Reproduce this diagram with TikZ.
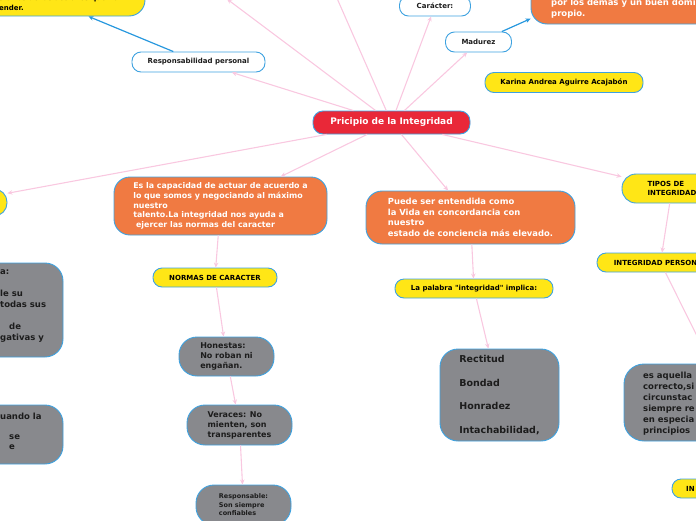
\documentclass[tikz,border=0pt]{standalone}
\usepackage{fontspec}
\setmainfont{DejaVu Sans}[Ligatures=TeXOff]
\usetikzlibrary{arrows.meta}
\definecolor{yel}{RGB}{255,230,22}
\definecolor{ora}{RGB}{240,122,66}
\definecolor{redc}{RGB}{233,40,56}
\definecolor{gry}{RGB}{136,137,141}
\definecolor{bdr}{RGB}{62,162,224}
\definecolor{pnk}{RGB}{249,200,224}
\definecolor{blu}{RGB}{40,152,222}
\definecolor{dark}{RGB}{28,28,28}
\newcommand\myfs[2]{\fontsize{#1}{#2}\selectfont}
\begin{document}
\begin{tikzpicture}[x=1pt,y=-1pt,
  base/.style={draw=bdr,line width=0.9pt,inner sep=0pt,align=left},
  pillw/.style={base,fill=white,text=dark,rounded corners=9pt,font=\bfseries\myfs{7}{9}},
  pilly/.style={base,fill=yel,text=black,rounded corners=9pt,font=\bfseries\myfs{7}{9}},
  oran/.style={base,fill=ora,text=white,rounded corners=16pt},
  grayb/.style={base,fill=gry,text=dark,rounded corners=18pt},
  txt/.style={inner sep=0pt,align=left},
  pk/.style={draw=pnk,line width=1.1pt,-{Stealth[length=5pt,width=4.5pt]}},
  bl/.style={draw=blu,line width=1.2pt,-{Stealth[length=5pt,width=4.5pt]}}]
\useasboundingbox (0,0) rectangle (696,520);
\clip (0,0) rectangle (696,520);

% nodes
\node[base,fill=redc,text=white,rounded corners=10pt,minimum width=157pt,minimum height=23pt,font=\bfseries\myfs{9}{11}] (c) at (391.5,122.5) {Pricipio de la Integridad};
\node[pillw,minimum width=133pt,minimum height=20pt] (resp) at (198.5,62) {Responsabilidad personal};
\node[pilly,minimum width=202pt,minimum height=36pt,rounded corners=16pt] (tl) at (44,-2) {};
\node[txt,font=\bfseries\myfs{7}{10},anchor=west] (tlt) at (-1,3) {s otros de las acciones que no\\ender.};
\node[pillw,minimum width=71pt,minimum height=20pt] (car) at (435,6) {Carácter:};
\node[pillw,minimum width=66pt,minimum height=20pt] (mad) at (478.5,42) {Madurez};
\node[oran,minimum width=218pt,minimum height=108pt] (otr) at (640,-30) {};
\node[txt,text=white,font=\bfseries\myfs{8.5}{11},anchor=west] (otrt) at (551,8.5) {por los demás y un buen dominio\\propio.};
\node[pilly,minimum width=158pt,minimum height=20pt] (kar) at (564,82.5) {Karina Andrea Aguirre Acajabón};
\node[pilly,minimum width=100pt,minimum height=27pt,rounded corners=13pt] (ly) at (-43,202.5) {};
\node[oran,minimum width=213pt,minimum height=58pt,font=\bfseries\myfs{7.9}{9.8}] (esla) at (220.5,206) {Es la capacidad de actuar de acuerdo a\\lo que somos y negociando al máximo\\nuestro\\talento.La integridad nos ayuda a\\\hspace*{2.8pt}ejercer las normas del caracter};
\node[oran,minimum width=209pt,minimum height=53pt,font=\bfseries\myfs{8.4}{10.5}] (puede) at (470.5,217.5) {Puede ser entendida como\\la Vida en concordancia con\\nuestro\\estado de conciencia más elevado.};
\node[pilly,minimum width=100pt,minimum height=29pt,rounded corners=14pt,font=\bfseries\myfs{7}{8.5}] (tipos) at (672,188.5) {TIPOS DE\\INTEGRIDAD};
\node[pilly,minimum width=124pt,minimum height=19pt] (norm) at (215,277.5) {NORMAS DE CARACTER};
\node[pilly,minimum width=158pt,minimum height=19pt] (pal) at (474,288.5) {La palabra "integridad" implica:};
\node[pilly,minimum width=127pt,minimum height=19pt] (ip) at (660.5,262.5) {INTEGRIDAD PERSONAL};
\node[grayb,minimum width=95pt,minimum height=39pt,font=\bfseries\myfs{8}{10}] (hon) at (226.5,356.5) {Honestas:\\No roban ni\\engañan.};
\node[grayb,minimum width=105pt,minimum height=40pt,font=\bfseries\myfs{8}{10}] (ver) at (239.5,425) {Veraces: No\\mienten, son\\transparentes};
\node[grayb,minimum width=95pt,minimum height=40pt,font=\bfseries\myfs{6.5}{8.5}] (res) at (243.5,505) {Responsable:\\Son siempre\\confiables};
\node[grayb,minimum width=119pt,minimum height=92pt,font=\bfseries\myfs{9.5}{23.7}] (rect) at (499.5,395) {Rectitud\\Bondad\\Honradez\\Intachabilidad,};
\node[grayb,minimum width=212pt,minimum height=77pt,rounded corners=20pt] (gr) at (730,402.5) {};
\node[txt,text=dark,font=\bfseries\myfs{8.5}{11},anchor=west] (grt) at (643,403.5) {es aquella\\correcto,si\\circunstac\\siempre re\\en especia\\principios};
\node[pilly,minimum width=116pt,minimum height=19pt] (iny) at (730,488.5) {};
\node[txt,font=\bfseries\myfs{7}{9},anchor=west] (inyt) at (686,488.5) {IN};
\node[grayb,minimum width=160pt,minimum height=94pt] (gl1) at (-17,310) {};
\node[txt,text=dark,font=\bfseries\myfs{8.5}{11},anchor=west] (gl1t) at (0,306) {a:\\\mbox{}\\le su\\todas sus\\\mbox{}\\\hspace*{9pt}de\\gativas y};
\node[grayb,minimum width=160pt,minimum height=59pt] (gl2) at (-17,434.5) {};
\node[txt,text=dark,font=\bfseries\myfs{8.5}{10},anchor=west] (gl2t) at (0,431) {uando la\\\mbox{}\\\hspace*{9pt}se\\\hspace*{9pt}e};

% free ends
\coordinate (u1) at (227,-1);
\coordinate (u2) at (329,-20);

% connectors
\draw[pk] (c) -- (resp);
\draw[pk] (c) -- (u1);
\draw[pk] (c) -- (u2);
\draw[pk] (c) -- (car);
\draw[pk] (c) -- (mad);
\draw[pk] (c) -- (ly);
\draw[pk] (c) -- (esla);
\draw[pk] (c) -- (puede);
\draw[pk] (c) -- (tipos);
\draw[pk] (esla) -- (norm);
\draw[pk] (norm) -- (hon);
\draw[pk] (hon) -- (ver);
\draw[pk] (ver) -- (res);
\draw[pk] (puede) -- (pal);
\draw[pk] (pal) -- (rect);
\draw[pk] (tipos) -- (ip);
\draw[pk] (ip) -- (gr);
\draw[bl] (resp) -- (tl);
\draw[bl] (mad) -- (otr);
\end{tikzpicture}
\end{document}
